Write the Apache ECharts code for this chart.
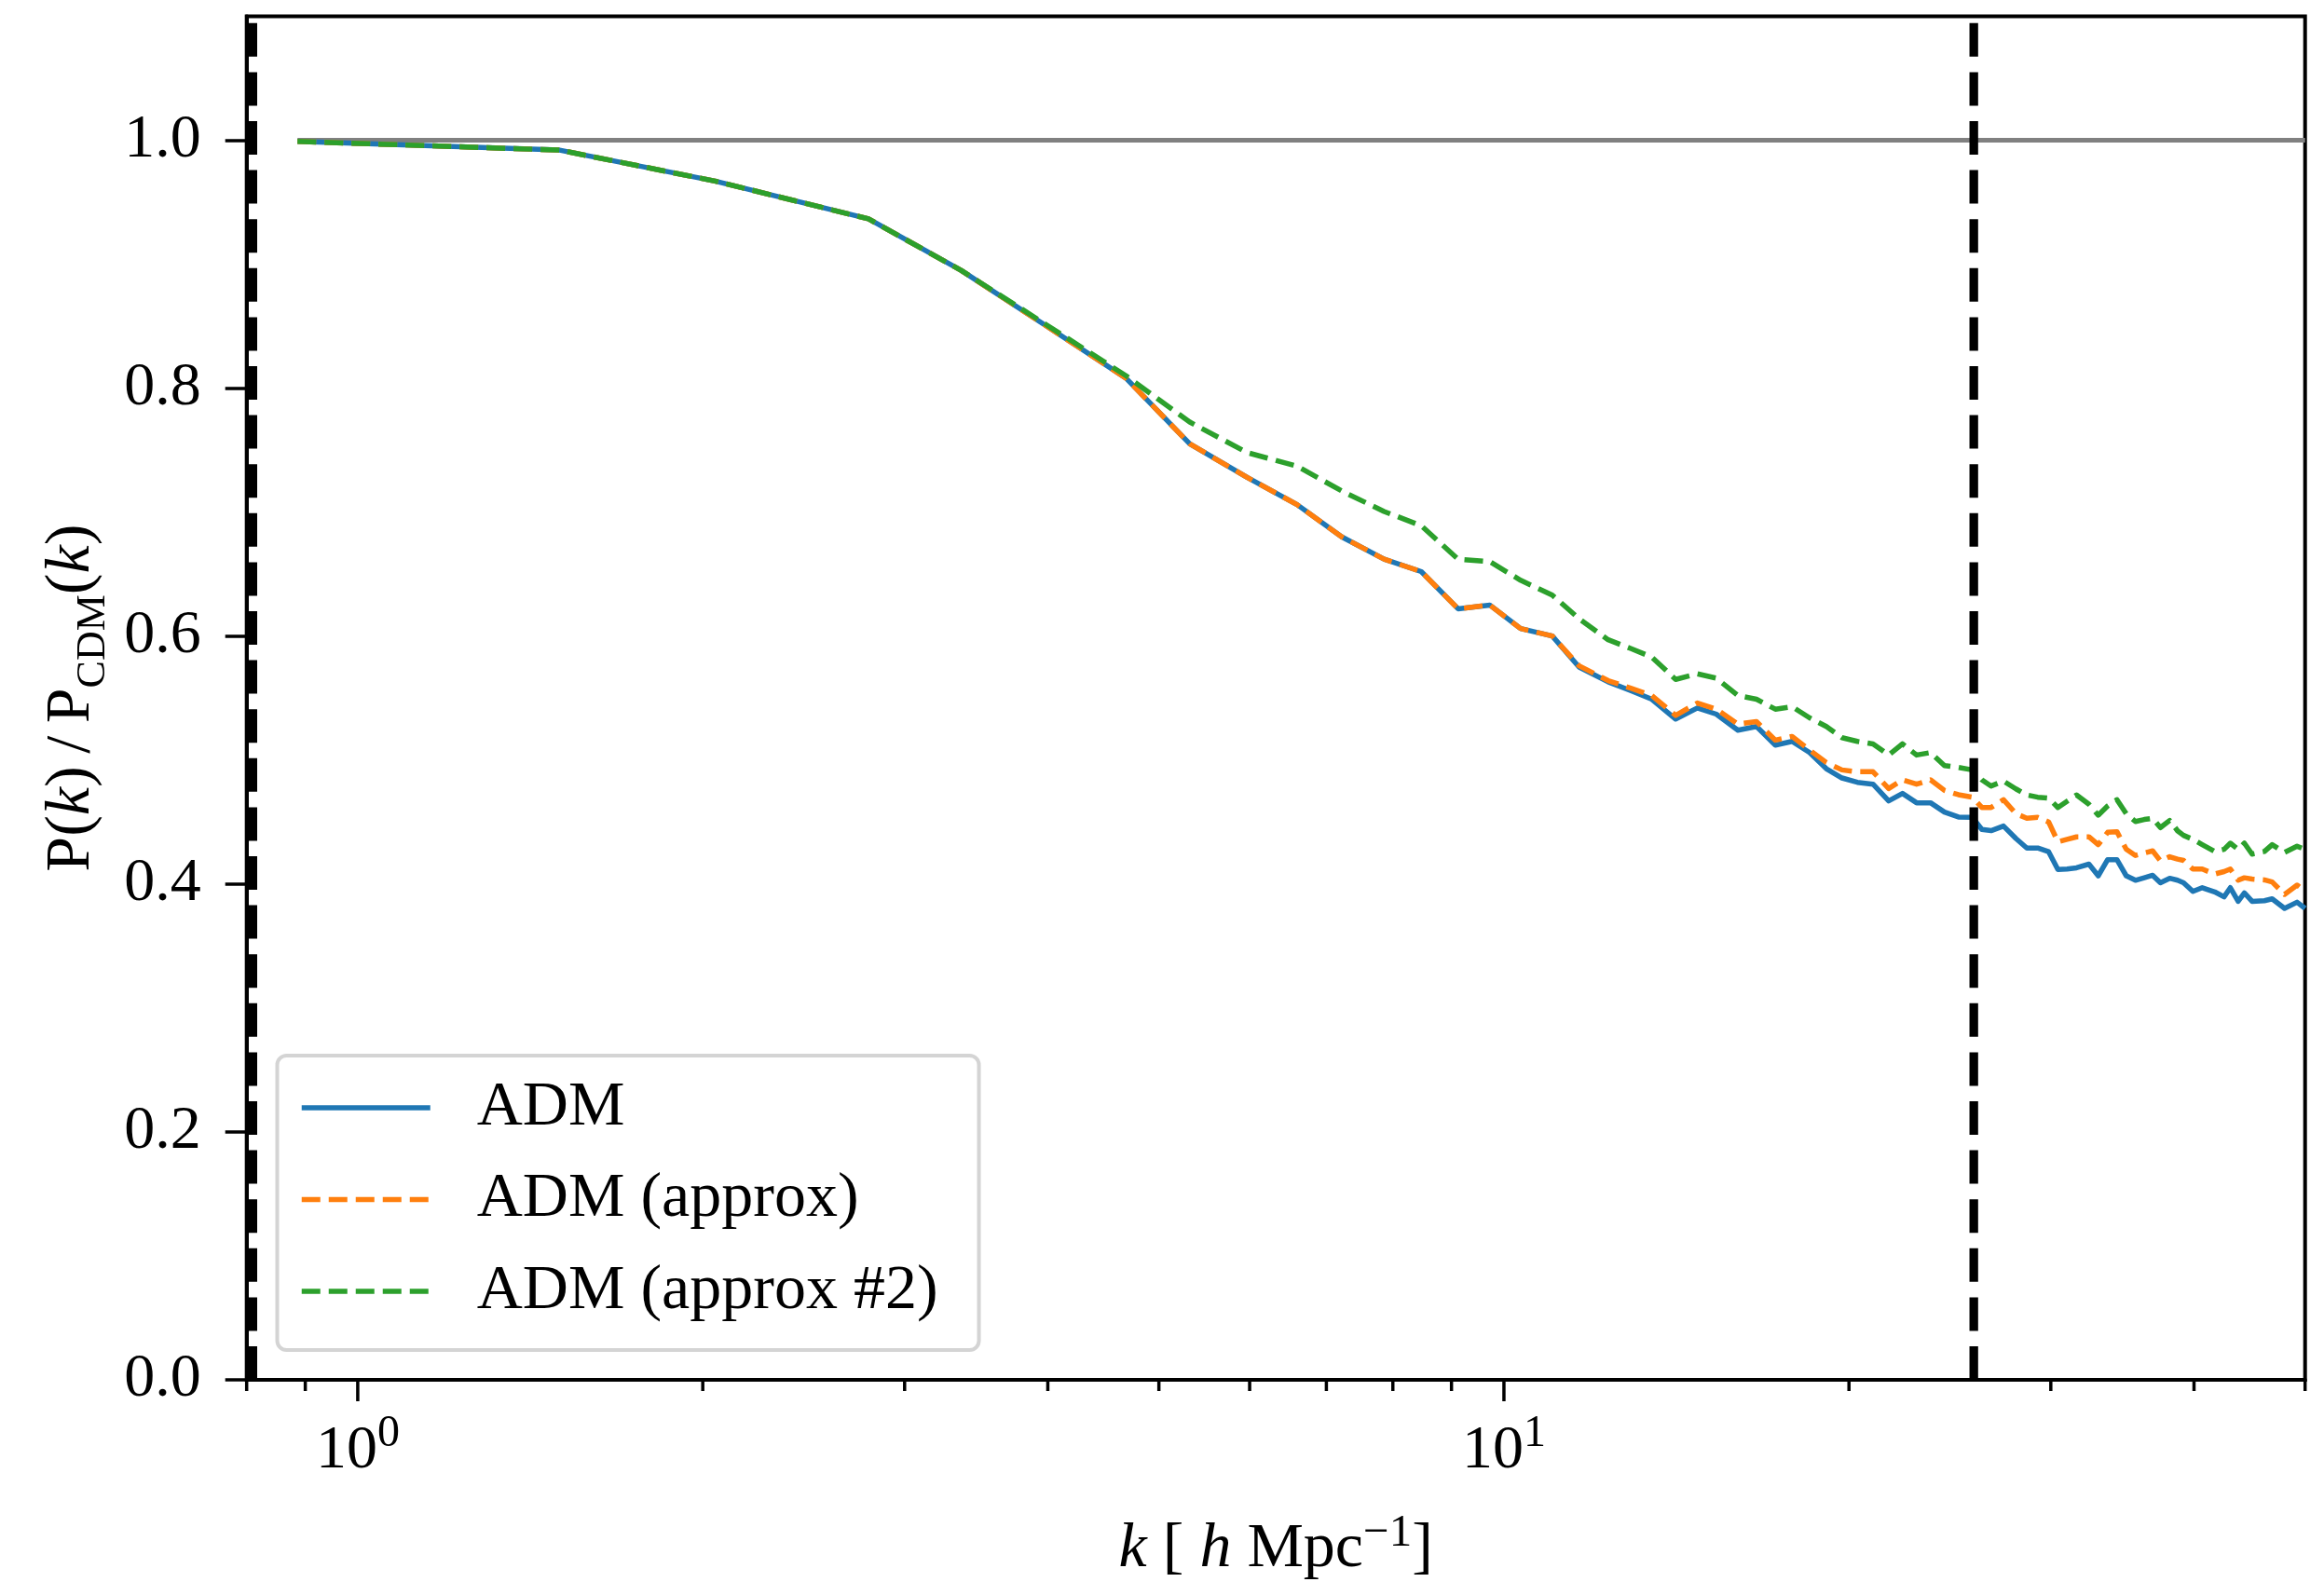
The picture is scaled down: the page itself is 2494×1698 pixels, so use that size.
<!DOCTYPE html>
<html><head><meta charset="utf-8">
<script src="https://cdn.jsdelivr.net/npm/echarts@6/dist/echarts.min.js"></script>
<style>html,body{margin:0;padding:0;background:#fff}#c{width:2494px;height:1698px}</style>
</head><body><div id="c"></div>
<script>
// ---- data ----
const kValues = [0.886, 1.50, 2.05, 2.79, 3.36, 3.99, 4.68, 5.32, 5.97, 6.60, 7.22, 7.86, 8.47, 9.12, 9.72, 10.34, 11.02, 11.63, 12.33, 12.90, 13.46, 14.12, 14.75, 15.32, 16.0, 16.61, 17.25, 17.84, 18.48, 19.11, 19.72, 20.34, 20.99, 21.66, 22.27, 22.91, 23.56, 24.23, 24.92, 25.63, 26.12, 26.61, 27.28, 27.97, 28.59, 29.22, 29.87, 30.43, 31.0, 31.59, 32.39, 33.0, 33.63, 34.26, 34.91, 35.56, 36.2, 36.81, 37.39, 38.09, 38.7, 39.17, 39.91, 40.67, 41.70, 42.49, 43.03, 43.71, 44.26, 44.95, 46.08, 46.8, 47.98, 49.2, 50.0];
const admValues = [0.999, 0.992, 0.967, 0.9365, 0.895, 0.850, 0.808, 0.755, 0.728, 0.706, 0.680, 0.662, 0.652, 0.622, 0.625, 0.606, 0.600, 0.575, 0.563, 0.556, 0.549, 0.533, 0.542, 0.537, 0.524, 0.527, 0.512, 0.515, 0.506, 0.493, 0.4855, 0.482, 0.4805, 0.467, 0.473, 0.4655, 0.4655, 0.458, 0.454, 0.4537, 0.444, 0.443, 0.4467, 0.4367, 0.429, 0.429, 0.426, 0.4117, 0.412, 0.413, 0.416, 0.4066, 0.4196, 0.4196, 0.4066, 0.403, 0.405, 0.407, 0.401, 0.4046, 0.403, 0.401, 0.394, 0.397, 0.3936, 0.3896, 0.397, 0.386, 0.3928, 0.386, 0.3865, 0.388, 0.3803, 0.3853, 0.3803];
const approxValues = [0.999, 0.992, 0.967, 0.9365, 0.895, 0.850, 0.808, 0.755, 0.728, 0.706, 0.680, 0.662, 0.652, 0.622, 0.625, 0.606, 0.600, 0.576, 0.564, 0.558, 0.552, 0.536, 0.546, 0.541, 0.529, 0.531, 0.516, 0.519, 0.508, 0.498, 0.492, 0.4905, 0.4905, 0.477, 0.484, 0.4805, 0.484, 0.4755, 0.472, 0.470, 0.4617, 0.4617, 0.468, 0.4567, 0.453, 0.4537, 0.450, 0.434, 0.436, 0.438, 0.438, 0.4317, 0.4417, 0.4422, 0.428, 0.423, 0.425, 0.4267, 0.4186, 0.422, 0.420, 0.419, 0.412, 0.412, 0.408, 0.410, 0.412, 0.403, 0.405, 0.404, 0.4033, 0.4016, 0.3916, 0.3991, 0.394];
const approx2Values = [0.999, 0.992, 0.967, 0.9365, 0.895, 0.851, 0.810, 0.7726, 0.748, 0.737, 0.717, 0.7005, 0.689, 0.662, 0.660, 0.645, 0.633, 0.614, 0.597, 0.590, 0.583, 0.565, 0.5695, 0.566, 0.552, 0.549, 0.541, 0.543, 0.534, 0.527, 0.518, 0.515, 0.513, 0.504, 0.513, 0.504, 0.506, 0.4955, 0.494, 0.492, 0.484, 0.479, 0.483, 0.4767, 0.4718, 0.470, 0.4692, 0.4617, 0.4667, 0.4718, 0.4643, 0.4555, 0.463, 0.468, 0.4567, 0.4504, 0.452, 0.453, 0.4455, 0.4512, 0.4429, 0.4392, 0.436, 0.4317, 0.4262, 0.4279, 0.4329, 0.4279, 0.4329, 0.4241, 0.4262, 0.4317, 0.4254, 0.4304, 0.4279];
const seriesNames = ['ADM', 'ADM (approx)', 'ADM (approx #2)'];
const refLevel = 1.0;
const kLowLine = 0.81;
const kHighLine = 25.7;
const xRange = [0.8, 50];
const yRange = [0, 1.1];
const yTickValues = [0, 0.2, 0.4, 0.6, 0.8, 1.0];
const xMajorTicks = [1, 10];
const xMinorTicks = [0.8, 0.9, 2, 3, 4, 5, 6, 7, 8, 9, 20, 30, 40, 50];

// ---- chart ----
const FONT = 'Liberation Serif';
const pairs = vals => kValues.map((k, i) => [k, vals[i]]);
const chart = echarts.init(document.getElementById('c'), null, {renderer: 'canvas'});

const tickData = xMajorTicks.map(v => [v, 0, 1]).concat(xMinorTicks.map(v => [v, 0, 0]));

chart.setOption({
  animation: false,
  backgroundColor: '#ffffff',
  grid: {left: 264.7, right: 20.3, top: 17.4, bottom: 217, show: true, borderColor: '#000', borderWidth: 4, containLabel: false, outerBoundsMode: 'none'},
  xAxis: {
    type: 'log', logBase: 10, min: xRange[0], max: xRange[1],
    axisLine: {show: true, lineStyle: {color: '#000', width: 4}},
    axisTick: {show: false},
    splitLine: {show: false},
    minorTick: {show: false},
    axisLabel: {
      margin: 44, color: '#000', fontFamily: FONT, fontSize: 66,
      showMinLabel: false, showMaxLabel: false,
      formatter: function (v) {
        const e = Math.log10(v);
        if (Math.abs(e - Math.round(e)) > 1e-6) return '';
        return '{b|10}{s|' + Math.round(e) + '}';
      },
      rich: {
        b: {fontFamily: FONT, fontSize: 66, lineHeight: 66, color: '#000'},
        s: {fontFamily: FONT, fontSize: 48, lineHeight: 48, color: '#000', padding: [0, 0, 38, 0]}
      }
    },
    name: '{i|k} [ {i|h} Mpc{s|\u22121}]',
    nameLocation: 'middle', nameGap: 148,
    nameTextStyle: {
      fontFamily: FONT, fontSize: 68, color: '#000',
      rich: {
        i: {fontFamily: FONT, fontStyle: 'italic', fontSize: 68, lineHeight: 68, color: '#000'},
        s: {fontFamily: FONT, fontSize: 49, lineHeight: 49, color: '#000', padding: [0, 0, 34, 0]}
      }
    }
  },
  yAxis: {
    type: 'value', min: yRange[0], max: yRange[1], interval: 0.2,
    axisLine: {show: true, lineStyle: {color: '#000', width: 4}},
    axisTick: {show: true, inside: false, length: 23, customValues: yTickValues, lineStyle: {color: '#000', width: 3.5}},
    axisLabel: {customValues: yTickValues, margin: 49, color: '#000', fontFamily: FONT, fontSize: 66, formatter: v => v.toFixed(1)},
    splitLine: {show: false},
    name: 'P({i|k})\u2009/\u2009P{sub|CDM}({i|k})',
    nameLocation: 'middle', nameRotate: 90, nameGap: 152,
    nameTextStyle: {
      fontFamily: FONT, fontSize: 68, lineHeight: 70, color: '#000',
      rich: {
        i: {fontFamily: FONT, fontStyle: 'italic', fontSize: 68, lineHeight: 70, color: '#000'},
        sub: {fontFamily: FONT, fontSize: 44, lineHeight: 44, color: '#000', padding: [46, 0, 0, 0]}
      }
    }
  },
  legend: {
    data: seriesNames, orient: 'vertical', left: 297.5, top: 1133,
    itemWidth: 138, itemHeight: 68, itemGap: 30.5,
    padding: [22, 44, 29, 23.5],
    backgroundColor: '#ffffff', borderColor: '#d4d4d4', borderWidth: 4, borderRadius: 10,
    itemStyle: {opacity: 0, borderWidth: 0},
    lineStyle: {width: 5.5},
    textStyle: {fontFamily: FONT, fontSize: 68, lineHeight: 68, color: '#000', padding: [0, 0, 0, 45]}
  },
  series: [
    {type: 'line', name: 'ref', data: [[kValues[0], refLevel], [xRange[1], refLevel]], symbol: 'none', silent: true, z: 1,
     lineStyle: {color: '#808080', width: 5}},
    {type: 'line', name: seriesNames[0], data: pairs(admValues), symbol: 'none', z: 2, color: '#1f77b4',
     lineStyle: {color: '#1f77b4', width: 5.5, join: 'round', cap: 'butt'}},
    {type: 'line', name: seriesNames[1], data: pairs(approxValues), symbol: 'none', z: 3, color: '#ff7f0e',
     lineStyle: {color: '#ff7f0e', width: 5.5, type: [20, 9], join: 'round', cap: 'butt'}},
    {type: 'line', name: seriesNames[2], data: pairs(approx2Values), symbol: 'none', z: 4, color: '#2ca02c',
     lineStyle: {color: '#2ca02c', width: 5.5, type: [20, 9], join: 'round', cap: 'butt'}},
    {type: 'line', name: 'kLow', data: [[kLowLine, yRange[0]], [kLowLine, yRange[1]]], symbol: 'none', silent: true, z: 5,
     lineStyle: {color: '#000', width: 9.3, type: [36, 16.6], cap: 'butt'}},
    {type: 'line', name: 'kHigh', data: [[kHighLine, yRange[0]], [kHighLine, yRange[1]]], symbol: 'none', silent: true, z: 5,
     lineStyle: {color: '#000', width: 9.3, type: [36, 16.6], cap: 'butt'}},
    {type: 'custom', name: 'xticks', data: tickData, silent: true, clip: false, z: 6,
     encode: {x: 0, y: 1},
     renderItem: function (params, api) {
       const p = api.coord([api.value(0), yRange[0]]);
       const len = api.value(2) ? 23 : 12;
       return {type: 'line', shape: {x1: p[0], y1: p[1], x2: p[0], y2: p[1] + len},
               style: {stroke: '#000', lineWidth: 3.5}};
     }}
  ]
});
</script>
</body></html>
